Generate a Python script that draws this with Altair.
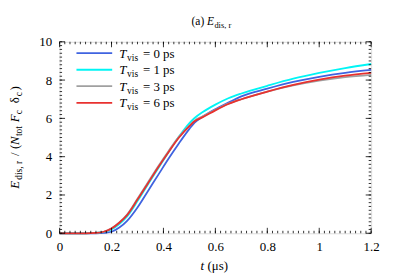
import altair as alt
import pandas as pd

# ---- data ----
t = [0, 0.1, 0.14, 0.17, 0.2, 0.23, 0.26, 0.3, 0.34, 0.38, 0.42, 0.46, 0.5,
     0.52, 0.55, 0.6, 0.65, 0.7, 0.8, 0.9, 1.0, 1.1, 1.2]
e_t0 = [0, 0, 0, 0.02, 0.08, 0.3, 0.65, 1.35, 2.2, 3.05, 3.9, 4.7, 5.45,
        5.78, 6.08, 6.48, 6.82, 7.15, 7.55, 7.9, 8.17, 8.38, 8.53]
e_t1 = [0, 0, 0.02, 0.07, 0.2, 0.48, 0.88, 1.68, 2.55, 3.4, 4.25, 5.05, 5.75,
        6.02, 6.32, 6.72, 7.05, 7.3, 7.7, 8.07, 8.37, 8.63, 8.84]
e_t3 = [0, 0, 0.02, 0.08, 0.26, 0.57, 0.98, 1.8, 2.65, 3.5, 4.3, 5.05, 5.62,
        5.88, 6.1, 6.45, 6.77, 7.0, 7.4, 7.72, 7.97, 8.15, 8.27]
e_t6 = [0, 0, 0.02, 0.08, 0.25, 0.55, 0.95, 1.76, 2.6, 3.45, 4.25, 5.0, 5.6,
        5.85, 6.05, 6.42, 6.75, 7.0, 7.4, 7.75, 8.02, 8.23, 8.38]
series_names = ["0", "1", "3", "6"]
series_colors = ["#3f63e0", "#00f5f5", "#a0a0a0", "#e8312f"]

x_major = [0, 0.2, 0.4, 0.6, 0.8, 1.0, 1.2]
y_major = [0, 2, 4, 6, 8, 10]
x_minor = [round(i * 0.02, 2) for i in range(61)]
y_minor = [round(i * 0.2, 1) for i in range(51)]

W, H = 314, 193
FONT = "'Liberation Serif', 'Times New Roman', serif"

rows = []
for name, vals in zip(series_names, [e_t0, e_t1, e_t3, e_t6]):
    for tt, v in zip(t, vals):
        rows.append({"t": tt, "E": v, "s": name})
df = pd.DataFrame(rows)

xs = alt.Scale(domain=[0, 1.2], nice=False)
ys = alt.Scale(domain=[0, 10], nice=False)
x_axis = alt.Axis(values=x_major, format="~g", title=None, grid=False,
                  ticks=False, domain=False, labelFont=FONT,
                  labelFontSize=13, labelColor="black", labelPadding=7,
                  labelOverlap=False, labelFlush=False)
y_axis = alt.Axis(values=y_major, format="d", title=None, grid=False, ticks=False,
                  domain=False, labelFont=FONT, labelFontSize=13,
                  labelColor="black", labelPadding=8,
                  labelOverlap=False, labelFlush=False)


def X(f):
    return alt.X(f, scale=xs, axis=x_axis)


def Y(f):
    return alt.Y(f, scale=ys, axis=y_axis)


color_enc = alt.Color("s:N", scale=alt.Scale(domain=series_names, range=series_colors),
                      legend=None)

lines = alt.Chart(df).mark_line(strokeWidth=1.8, interpolate="monotone").encode(
    x=X("t:Q"), y=Y("E:Q"), color=color_enc, order=alt.Order("t:Q"),
)


# inward ticks on all four sides
def xticks(vals, ln):
    d = pd.DataFrame({"v": vals})
    b = alt.Chart(d).mark_rule(color="black", strokeWidth=0.8)
    return (b.encode(x=X("v:Q"), y=alt.value(H), y2=alt.value(H - ln)) +
            b.encode(x=X("v:Q"), y=alt.value(0), y2=alt.value(ln)))


def yticks(vals, ln):
    d = pd.DataFrame({"v": vals})
    b = alt.Chart(d).mark_rule(color="black", strokeWidth=0.8)
    return (b.encode(y=Y("v:Q"), x=alt.value(0), x2=alt.value(ln)) +
            b.encode(y=Y("v:Q"), x=alt.value(W), x2=alt.value(W - ln)))


ticks = xticks(x_minor, 2.5) + xticks(x_major, 5.5) + yticks(y_minor, 2.5) + yticks(y_major, 5.5)

# legend (manual, to allow subscripts)
leg_y = [11.5, 28.2, 44.8, 61.5]
leg = pd.DataFrame({"s": series_names, "py": leg_y,
                    "lab": ["= %s ps" % n for n in series_names]})
leg_lines = alt.Chart(leg).mark_rule(strokeWidth=1.8).encode(
    x=alt.value(17), x2=alt.value(53),
    y=alt.Y("py:Q", scale=None, axis=None),
    color=color_enc,
)
leg_T = alt.Chart(leg).mark_text(font=FONT, fontSize=13, fontStyle="italic",
                                 align="left", baseline="alphabetic", color="black").encode(
    x=alt.value(60), y=alt.Y("py:Q", scale=None, axis=None), text=alt.value("T"),
    yOffset=alt.value(4.5))
leg_sub = alt.Chart(leg).mark_text(font=FONT, fontSize=9.5, align="left",
                                   baseline="alphabetic", color="black").encode(
    x=alt.value(68), y=alt.Y("py:Q", scale=None, axis=None), text=alt.value("vis"),
    yOffset=alt.value(7.5))
leg_lab = alt.Chart(leg).mark_text(font=FONT, fontSize=13, align="left",
                                   baseline="alphabetic", color="black").encode(
    x=alt.value(84), y=alt.Y("py:Q", scale=None, axis=None), text="lab:N",
    yOffset=alt.value(4.5))


def txt(s, x, y, size=13, italic=False, angle=0):
    kw = dict(font=FONT, fontSize=size, align="left", baseline="alphabetic",
              color="black", text=s)
    if italic:
        kw["fontStyle"] = "italic"
    if angle:
        kw["angle"] = angle
    return alt.Chart(pd.DataFrame({"a": [0]})).mark_text(**kw).encode(
        x=alt.value(x), y=alt.value(y))


# title "(a) E_dis, r"
title = (txt("(a)", 133, -17, 11.5) + txt("E", 148.5, -17, 11.5, True) +
         txt("dis, r", 156, -14, 8.5))
# x-axis title "t (μs)"
xtitle = txt("t", 142, 230, 13, True) + txt("(μs)", 149, 230, 13)
# y-axis title "E_dis, r / (N_tot F_c δ_c)"
yx, ysx = -41, -38
ytitle = (txt("E", yx, 148, 13, True, 270) + txt("dis, r", ysx, 139, 9.5, angle=270) +
          txt("/ (", yx, 115, 13, angle=270) + txt("N", yx, 104, 13, True, 270) +
          txt("tot", ysx, 95, 9.5, angle=270) + txt("F", yx, 81, 13, True, 270) +
          txt("c", ysx, 73, 9.5, angle=270) + txt("δ", yx, 62, 13, angle=270) +
          txt("c", ysx, 55, 9.5, angle=270) + txt(")", yx, 49, 13, angle=270))

chart = alt.layer(
    lines, ticks, leg_lines, leg_T, leg_sub, leg_lab, title, xtitle, ytitle
).properties(
    width=W, height=H,
    autosize=alt.AutoSizeParams(type="none"),
    padding={"left": 52, "top": 33, "right": 20, "bottom": 40},
).configure_view(stroke="black", strokeWidth=1).configure(background="white")

chart.save("out.html", embed_options={"renderer": "svg", "actions": False})
